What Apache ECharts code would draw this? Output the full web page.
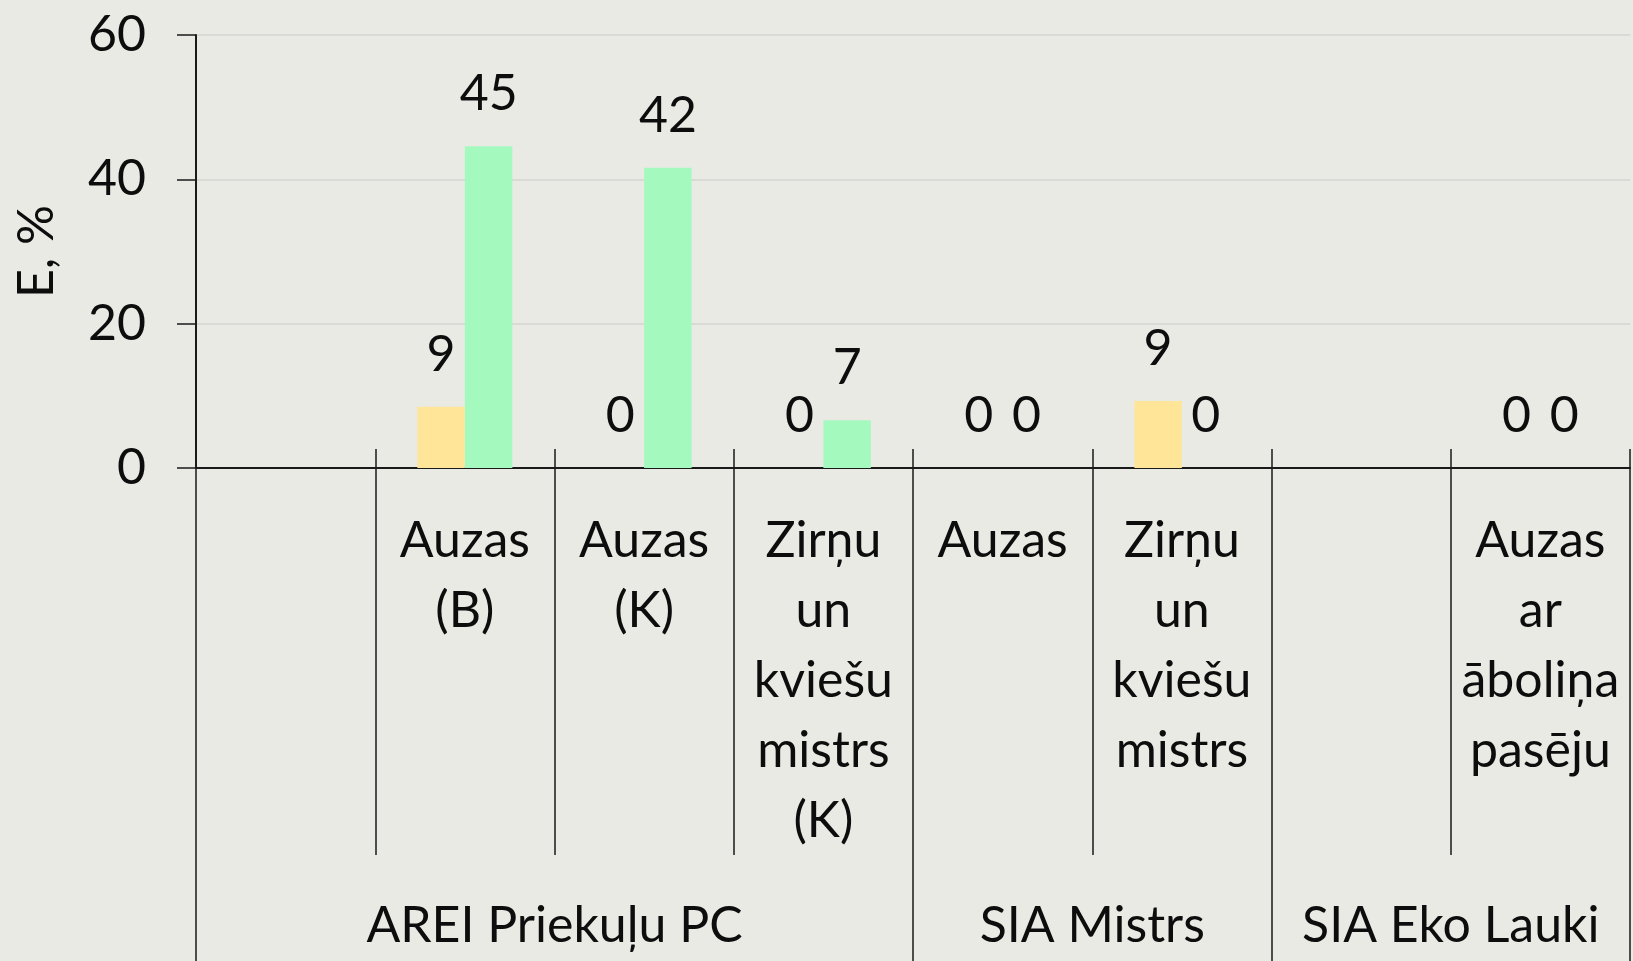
<!DOCTYPE html>
<html>
<head>
<meta charset="utf-8">
<script src="https://cdn.jsdelivr.net/npm/echarts@6/dist/echarts.min.js"></script>
<style>
html,body{margin:0;padding:0;background:#EAEAE5;overflow:hidden;}
#c{width:1633px;height:961px;}
</style>
</head>
<body>
<div id="c"></div>
<script>
// ---- data ----
const categories = ['', 'Auzas\n(B)', 'Auzas\n(K)', 'Zirņu\nun\nkviešu\nmistrs\n(K)', 'Auzas', 'Zirņu\nun\nkviešu\nmistrs', '', 'Auzas\nar\nāboliņa\npasēju'];
const groupNames = ['AREI Priekuļu PC', 'SIA Mistrs', 'SIA Eko Lauki'];
const groupSizes = [4, 2, 2];
const seriesYellow = [null, 8.5, 0, 0, 0, 9.3, null, 0];
const seriesGreen = [null, 44.6, 41.6, 6.6, 0, 0, null, 0];
const yTicks = [0, 20, 40, 60];
const yName = 'E, %';

// ---- derived group-boundary axis (positions at category boundaries) ----
const boundaryCount = categories.length + 1;
const groupLabels = new Array(boundaryCount).fill('');
const boundaryIdx = [0];
let acc = 0;
groupNames.forEach((g, i) => {
  const start = acc;
  acc += groupSizes[i];
  groupLabels[(start + acc) / 2] = g;
  boundaryIdx.push(acc);
});

const FONT = 'Lato';
const FS = 50;
const TXT = '#0d0d0d';

const chart = echarts.init(document.getElementById('c'), null, {renderer: 'canvas'});
chart.setOption({
  backgroundColor: '#EAEAE5',
  animation: false,
  textStyle: {fontFamily: FONT},
  grid: {left: 196, right: 0, top: 35, bottom: 491, containLabel: false},
  xAxis: [
    {
      type: 'category',
      data: categories,
      position: 'bottom',
      axisLine: {show: true, lineStyle: {color: '#1a1a1a', width: 2}},
      axisTick: {show: true, interval: 0, length: 387, lineStyle: {color: '#1a1a1a', width: 1.5}},
      axisLabel: {interval: 0, margin: 38, fontFamily: FONT, fontSize: FS, lineHeight: 70, color: TXT, verticalAlign: 'top'},
      splitLine: {show: false}
    },
    {
      type: 'category',
      data: groupLabels,
      boundaryGap: false,
      position: 'bottom',
      axisLine: {show: false},
      axisTick: {show: true, length: 520, interval: (i) => boundaryIdx.indexOf(i) >= 0, lineStyle: {color: '#1a1a1a', width: 1.5}},
      axisLabel: {interval: 0, margin: 423, fontFamily: FONT, fontSize: FS, lineHeight: 70, color: TXT, verticalAlign: 'top'},
      splitLine: {show: false}
    },
    {
      type: 'category',
      data: categories,
      position: 'bottom',
      axisLine: {show: false},
      axisTick: {show: true, inside: true, interval: 0, length: 19, lineStyle: {color: '#1a1a1a', width: 1.5}},
      axisLabel: {show: false},
      splitLine: {show: false}
    }
  ],
  yAxis: {
    type: 'value',
    min: yTicks[0],
    max: yTicks[yTicks.length - 1],
    interval: yTicks[1] - yTicks[0],
    name: yName,
    nameLocation: 'middle',
    nameRotate: 90,
    nameGap: 134,
    nameTextStyle: {fontFamily: FONT, fontSize: FS, color: TXT},
    axisLine: {show: true, lineStyle: {color: '#1a1a1a', width: 2}},
    axisTick: {show: true, length: 19, lineStyle: {color: '#1a1a1a', width: 1.5}},
    axisLabel: {margin: 50, fontFamily: FONT, fontSize: FS, color: TXT},
    splitLine: {show: true, lineStyle: {color: '#D9D9D6', width: 2}}
  },
  series: [
    {
      type: 'bar',
      data: seriesYellow,
      xAxisIndex: 0,
      barGap: '0%',
      barCategoryGap: '47%',
      itemStyle: {color: '#FFE597'},
      label: {show: true, position: 'top', distance: 27, fontFamily: FONT, fontSize: FS, color: TXT,
        formatter: p => p.value == null ? '' : String(Math.round(p.value))}
    },
    {
      type: 'bar',
      data: seriesGreen,
      xAxisIndex: 0,
      barGap: '0%',
      barCategoryGap: '47%',
      itemStyle: {color: '#A4F9BF'},
      label: {show: true, position: 'top', distance: 27, fontFamily: FONT, fontSize: FS, color: TXT,
        formatter: p => p.value == null ? '' : String(Math.round(p.value))}
    }
  ]
});
</script>
</body>
</html>
